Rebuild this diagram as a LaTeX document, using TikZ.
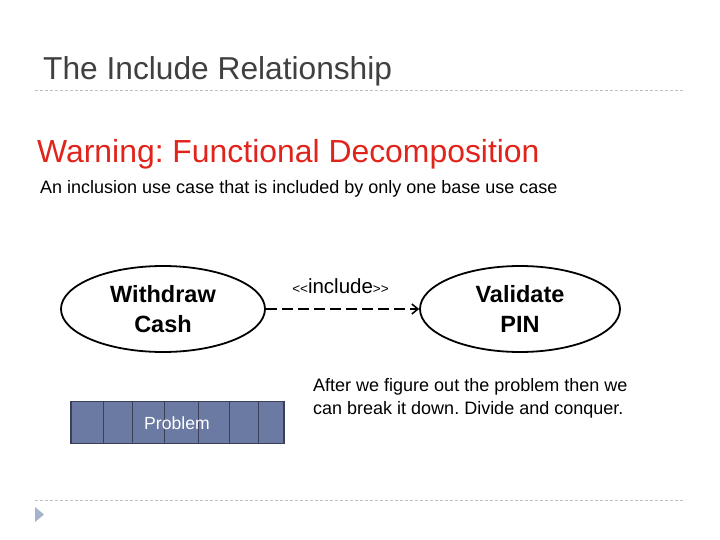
\documentclass[tikz,border=0pt]{standalone}
\usepackage{fontspec}
\setmainfont{Liberation Sans}
\newfontfamily\nomapsans{Liberation Sans}
\usetikzlibrary{shapes.geometric,arrows.meta}
\frenchspacing
\definecolor{titlegray}{HTML}{404040}
\definecolor{rulegray}{HTML}{BFBFBF}
\definecolor{warnred}{HTML}{E0241B}
\definecolor{boxfill}{HTML}{6B7AA3}
\definecolor{boxline}{HTML}{3A4058}
\definecolor{bullet}{HTML}{A3B4CC}
\tikzset{
  usecase/.style={ellipse, draw=black, line width=1.8pt, minimum width=204pt, minimum height=86pt, align=center, font=\fontsize{23.5}{30}\selectfont\bfseries, inner sep=0pt},
  sepline/.style={rulegray, dashed, dash pattern=on 3pt off 2pt, line width=0.8pt},
  cell/.style={boxline, line width=1pt}
}
\begin{document}
\begin{tikzpicture}[x=1pt,y=-1pt]
\useasboundingbox (0,0) rectangle (720,540);
\node[anchor=base west, inner sep=0pt, text=titlegray, font=\fontsize{31.7}{36}\selectfont] (title) at (43,80) {The Include Relationship};
\draw[sepline] (35,90) -- (685,90);
\node[anchor=base west, inner sep=0pt, text=warnred, font=\fontsize{31.9}{36}\selectfont] (warn) at (37,163) {Warning: Functional Decomposition};
\node[anchor=base west, inner sep=0pt, font=\fontsize{18}{22}\selectfont] (sub) at (40,194) {An inclusion use case that is included by only one base use case};
\node[usecase] (wc) at (163,309) {Withdraw\\Cash};
\node[usecase, minimum width=200pt] (vp) at (520,309) {Validate\\PIN};
\draw[line width=2pt, dashed, dash pattern=on 11pt off 5pt, -{Straight Barb[length=6pt,width=10pt,line width=1.6pt]}] (wc.east) -- (vp.west);
\node[inner sep=0pt, anchor=base, font=\nomapsans] (inc) at (340.5,293) {{\fontsize{13.5}{15}\selectfont<<}{\fontsize{20.5}{23}\selectfont include}{\fontsize{13.5}{15}\selectfont>>}};
\node[anchor=base west, inner sep=0pt] (after1) at (313,391) {\fontsize{18}{23}\selectfont After we figure out the problem then we};
\node[anchor=base west, inner sep=0pt] (after2) at (313,414) {\fontsize{18}{23}\selectfont can break it down. Divide and conquer.};
\node[draw=boxline, fill=boxfill, line width=1.5pt, minimum width=213pt, minimum height=42pt, inner sep=0pt] (prob) at (177.5,422.5) {};
\foreach \xx in {103,132.5,164,198,229,258.5}
  \draw[cell] (\xx,402) -- (\xx,443);
\node[text=white, font=\fontsize{17.6}{20}\selectfont] (probtxt) at (177,423) {Problem};
\draw[sepline] (35,500) -- (685,500);
\fill[bullet] (35,507) -- (44,514.5) -- (35,522) -- cycle;
\end{tikzpicture}
\end{document}
